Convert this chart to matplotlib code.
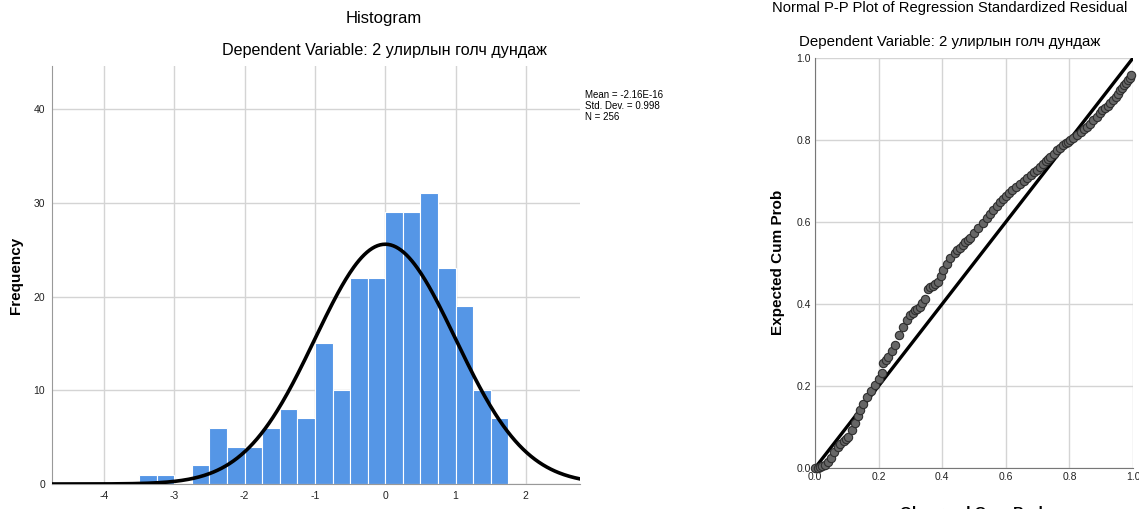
#!/usr/bin/env python
# coding: utf-8

# Regression residual diagnostics: histogram + normal P-P plot

import numpy as np
import matplotlib
matplotlib.use("Agg")
import matplotlib.pyplot as plt

# histogram of standardized residuals (bin width 0.25)
bin_left = [-3.5, -3.25, -3.0, -2.75, -2.5, -2.25, -2.0, -1.75, -1.5, -1.25, -1.0,
            -0.75, -0.5, -0.25, 0.0, 0.25, 0.5, 0.75, 1.0, 1.25, 1.5]
bin_counts = [1, 1, 0, 2, 6, 4, 4, 6, 8, 7, 15, 10, 22, 22, 29, 29, 31, 23, 19, 10, 7]
bin_width = 0.25
res_mean = -2.16e-16
res_sd = 0.998
res_n = 256

# P-P plot points
obs_cum = [0.000, 0.008, 0.015, 0.023, 0.031, 0.040, 0.050, 0.060, 0.072, 0.080,
           0.090, 0.097, 0.104, 0.115, 0.126, 0.134, 0.142, 0.152, 0.164, 0.176,
           0.189, 0.200, 0.211, 0.214, 0.222, 0.230, 0.241, 0.252, 0.265, 0.277,
           0.288, 0.299, 0.307, 0.315, 0.322, 0.330, 0.338, 0.346, 0.355, 0.362,
           0.370, 0.378, 0.387, 0.395, 0.403, 0.414, 0.425, 0.440, 0.448, 0.456,
           0.464, 0.472, 0.480, 0.487, 0.500, 0.513, 0.527, 0.541, 0.550, 0.560,
           0.571, 0.582, 0.591, 0.600, 0.610, 0.619, 0.632, 0.645, 0.656, 0.667,
           0.678, 0.690, 0.699, 0.708, 0.717, 0.725, 0.732, 0.739, 0.750, 0.760,
           0.770, 0.780, 0.788, 0.795, 0.803, 0.811, 0.823, 0.835, 0.845, 0.855,
           0.865, 0.875, 0.886, 0.896, 0.904, 0.912, 0.920, 0.928, 0.937, 0.945,
           0.952, 0.959, 0.966, 0.972, 0.978, 0.984, 0.990, 0.995]
exp_cum = [0.000, 0.001, 0.002, 0.004, 0.007, 0.015, 0.025, 0.038, 0.051, 0.058,
           0.065, 0.070, 0.076, 0.093, 0.110, 0.126, 0.141, 0.156, 0.173, 0.188,
           0.202, 0.217, 0.232, 0.256, 0.263, 0.271, 0.285, 0.300, 0.325, 0.344,
           0.360, 0.373, 0.379, 0.385, 0.389, 0.393, 0.402, 0.412, 0.437, 0.441,
           0.445, 0.450, 0.454, 0.468, 0.483, 0.498, 0.512, 0.525, 0.531, 0.537,
           0.544, 0.550, 0.556, 0.561, 0.573, 0.585, 0.598, 0.610, 0.620, 0.630,
           0.640, 0.649, 0.656, 0.663, 0.671, 0.678, 0.686, 0.693, 0.700, 0.707,
           0.715, 0.722, 0.728, 0.734, 0.741, 0.748, 0.753, 0.759, 0.767, 0.775,
           0.781, 0.788, 0.792, 0.796, 0.800, 0.805, 0.812, 0.820, 0.826, 0.832,
           0.840, 0.848, 0.857, 0.866, 0.872, 0.878, 0.884, 0.890, 0.897, 0.905,
           0.913, 0.922, 0.928, 0.935, 0.940, 0.946, 0.952, 0.958]

subtitle = "Dependent Variable: 2 улирлын голч дундаж"
plt.rcParams['font.family'] = ['Liberation Sans', 'DejaVu Sans']
plt.rcParams['axes.unicode_minus'] = False
grid_col = "#d4d4d4"

W, H = 1139, 509
fig = plt.figure(figsize=(W / 100, H / 100), dpi=100)


def px(x, y):
    return x / W, 1 - y / H


# ---- histogram ----
ax1 = fig.add_axes([52 / W, 1 - 484 / H, (580 - 52) / W, (484 - 66) / H])
ax1.set_axisbelow(True)
ax1.bar(bin_left, bin_counts, width=bin_width, align="edge", color="#5596e6",
        edgecolor="white", linewidth=0.8, zorder=2)
xs = np.linspace(-4.74, 2.77, 400)
peak = res_n * bin_width / (res_sd * np.sqrt(2 * np.pi))
ax1.plot(xs, peak * np.exp(-0.5 * ((xs - res_mean) / res_sd) ** 2), color="black", lw=2.6, zorder=3)
ax1.set_xlim(-4.74, 2.77)
ax1.set_ylim(0, 44.6)
ax1.set_xticks([-4, -3, -2, -1, 0, 1, 2])
ax1.set_yticks([0, 10, 20, 30, 40])
ax1.grid(True, color=grid_col, lw=1)
for s in ["top", "right"]:
    ax1.spines[s].set_visible(False)
for s in ["left", "bottom"]:
    ax1.spines[s].set_color("#999999")
ax1.tick_params(length=0, pad=5, labelsize=7.5, labelcolor="#222222")

fig.text(*px(384, 18), "Histogram", ha="center", va="center", fontsize=12)
fig.text(*px(384, 51), subtitle, ha="center", va="center", fontsize=11.6)
fig.text(*px(16, 275), "Frequency", ha="center", va="center", rotation=90,
         fontsize=11, fontweight="bold")
fig.text(*px(585, 90), "Mean = -2.16E-16\nStd. Dev. = 0.998\nN = 256", ha="left", va="top",
         fontsize=7, linespacing=1.15)

# ---- P-P plot ----
ax2 = fig.add_axes([815 / W, 1 - 468 / H, (1133 - 815) / W, (468 - 58) / H])
ax2.set_axisbelow(True)
ax2.plot([0, 1], [0, 1], color="black", lw=2.4, zorder=2)
ax2.plot(obs_cum, exp_cum, "o", ms=6, mfc="#666666", mec="#2e2e2e", mew=0.8, zorder=3,
         clip_on=False)
ax2.set_xlim(0, 1)
ax2.set_ylim(0, 1)
ticks = [0.0, 0.2, 0.4, 0.6, 0.8, 1.0]
ax2.set_xticks(ticks)
ax2.set_yticks(ticks)
ax2.set_xticklabels([f"{t:.1f}" for t in ticks])
ax2.set_yticklabels([f"{t:.1f}" for t in ticks])
ax2.grid(True, color=grid_col, lw=1)
for s in ["top", "right"]:
    ax2.spines[s].set_visible(False)
for s in ["left", "bottom"]:
    ax2.spines[s].set_color("#777777")
ax2.tick_params(length=0, pad=3, labelsize=7.5, labelcolor="#222222")

fig.text(*px(950, 8), "Normal P-P Plot of Regression Standardized Residual", ha="center",
         va="center", fontsize=10.6)
fig.text(*px(950, 42), subtitle, ha="center", va="center", fontsize=10.8)
fig.text(*px(778, 262), "Expected Cum Prob", ha="center", va="center", rotation=90,
         fontsize=11, fontweight="bold")
fig.text(*px(974, 506), "Observed Cum Prob", ha="center", va="top",
         fontsize=11, fontweight="bold")

fig.savefig("out.png", dpi=100)
print("Wrote out.png")
